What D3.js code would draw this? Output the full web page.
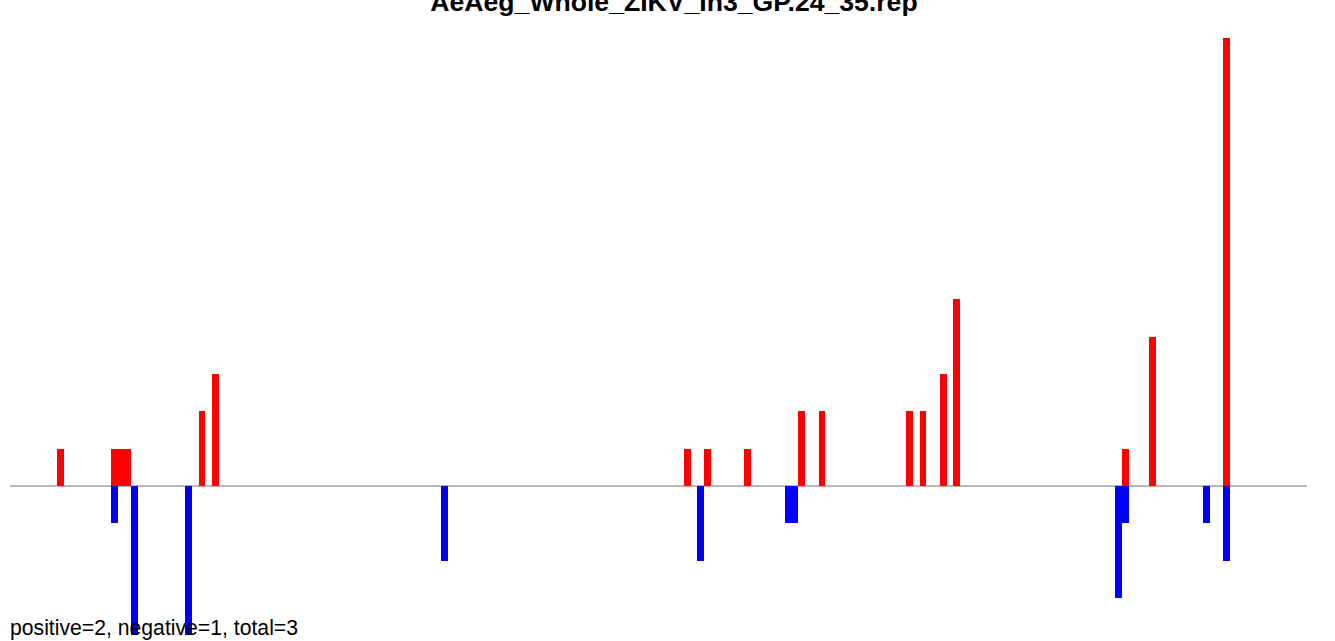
<!DOCTYPE html>
<html>
<head>
<meta charset="utf-8">
<script src="https://cdn.jsdelivr.net/npm/d3@7"></script>
<style>
  html, body { margin: 0; padding: 0; background: #ffffff; }
  svg { display: block; }
</style>
</head>
<body>
<script>
// ---- Data ----
const title = "AeAeg_Whole_ZIKV_In3_GP.24_35.rep";
const footer = "positive=2, negative=1, total=3";

// bin index of each positive (red) bar and its count
const posBins   = [0, 8, 9, 10, 21, 23, 93, 96, 102, 110, 113, 126, 128, 131, 133, 158, 162, 173];
const posValues = [1, 1, 1, 1, 2, 3, 1, 1, 1, 2, 2, 2, 2, 3, 5, 1, 4, 12];

// bin index of each negative (blue) bar and its count (drawn downward)
const negBins   = [8, 11, 19, 57, 95, 108, 109, 157, 158, 170, 173];
const negValues = [1, 4, 4, 2, 2, 1, 1, 3, 1, 1, 2];

// ---- Layout ----
const W = 1335, H = 641;
const binW = 6.74;

const svg = d3.select("body").append("svg")
  .attr("width", W).attr("height", H);

const x = d3.scaleLinear().domain([0, 174]).range([57, 57 + 174 * binW]);
const y = d3.scaleLinear().domain([-4, 12]).range([635.3, 38]);

// baseline
svg.append("line")
  .attr("x1", 10).attr("x2", 1307)
  .attr("y1", y(0)).attr("y2", y(0))
  .attr("stroke", "#a0a0a0").attr("stroke-width", 1.5);

const pos = posBins.map((b, i) => ({ b, v: posValues[i] }));
const neg = negBins.map((b, i) => ({ b, v: negValues[i] }));

svg.append("g").attr("shape-rendering", "crispEdges")
  .selectAll("rect").data(pos).join("rect")
  .attr("x", d => Math.round(x(d.b)))
  .attr("width", d => Math.round(x(d.b + 1)) - Math.round(x(d.b)))
  .attr("y", d => Math.round(y(d.v)))
  .attr("height", d => Math.round(y(0)) - Math.round(y(d.v)))
  .attr("fill", "#ff0000");

svg.append("g").attr("shape-rendering", "crispEdges")
  .selectAll("rect").data(neg).join("rect")
  .attr("x", d => Math.round(x(d.b)))
  .attr("width", d => Math.round(x(d.b + 1)) - Math.round(x(d.b)))
  .attr("y", Math.round(y(0)))
  .attr("height", d => Math.round(y(-d.v)) - Math.round(y(0)))
  .attr("fill", "#0000ff");

// title (cut off at the top edge, as in the reference)
svg.append("text")
  .attr("x", 674).attr("y", 10.5)
  .attr("text-anchor", "middle")
  .attr("font-family", "Liberation Sans, Arial, Helvetica, sans-serif")
  .attr("font-weight", "bold")
  .attr("font-size", 26.6)
  .attr("fill", "#000")
  .text(title);

// footer
svg.append("text")
  .attr("x", 10).attr("y", 635)
  .attr("font-family", "Liberation Sans, Arial, Helvetica, sans-serif")
  .attr("font-size", 21.2)
  .attr("fill", "#000")
  .text(footer);
</script>
</body>
</html>
